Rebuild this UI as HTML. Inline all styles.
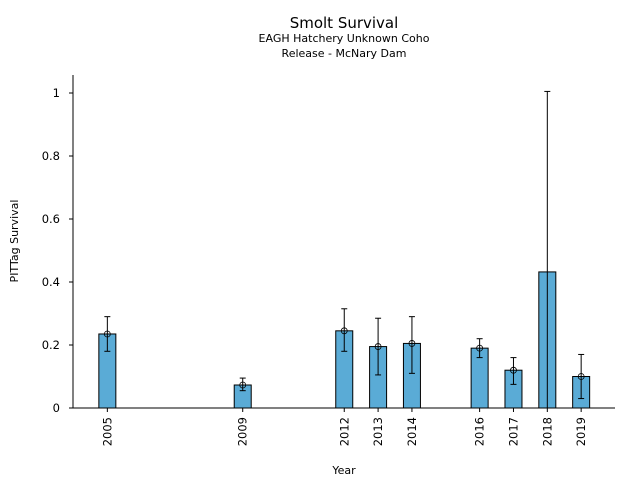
<!DOCTYPE html>
<html><head><meta charset="utf-8"><style>
body{margin:0;background:#fff;font-family:"DejaVu Sans","Liberation Sans",sans-serif}
svg text{font-family:"DejaVu Sans","Liberation Sans",sans-serif}
</style></head><body>
<svg id="chart" width="640" height="480">
<text x="344" y="28" font-size="15" text-anchor="middle">Smolt Survival</text>
<text x="344" y="42" font-size="11" text-anchor="middle">EAGH Hatchery Unknown Coho</text>
<text x="344" y="57" font-size="11" text-anchor="middle">Release - McNary Dam</text>
<text x="344" y="474" font-size="11" text-anchor="middle">Year</text>
<text transform="translate(18,241) rotate(-90)" font-size="11" text-anchor="middle">PITTag Survival</text>
<g id="marks"></g>
</svg>
<script>
const years=[2005,2009,2012,2013,2014,2016,2017,2018,2019];
const survival=[0.235,0.073,0.245,0.195,0.205,0.19,0.12,0.432,0.10];
const errLow=[0.18,0.055,0.18,0.105,0.11,0.16,0.075,0,0.03];
const errHigh=[0.29,0.095,0.315,0.285,0.29,0.22,0.16,1.005,0.17];
const showMarker=[true,true,true,true,true,true,true,false,true];
const yTicks=[0,0.2,0.4,0.6,0.8,1];
const yTickLabels=["0","0.2","0.4","0.6","0.8","1"];
const L=73,R=615,T=75,B=408;
const xs=v=>73.5+(v-2004)*(R-73.5)/16;
const ys=v=>B-v*315;
const g=document.getElementById('marks');
const NS='http://www.w3.org/2000/svg';
function mk(t,a){const e=document.createElementNS(NS,t);for(const k in a)e.setAttribute(k,a[k]);g.appendChild(e);return e;}
years.forEach((yr,i)=>{
 const cx=xs(yr);
 const bar=mk('rect',{x:cx-8.5,y:ys(survival[i]),width:17,height:B-ys(survival[i]),fill:'#5aabd6',stroke:'#000','stroke-width':1});
 
 
 const el=mk('line',{x1:cx,x2:cx,y1:ys(errLow[i]),y2:ys(errHigh[i]),stroke:'#000','stroke-width':1});
 
 
 mk('line',{x1:cx-3,x2:cx+3,y1:ys(errHigh[i]),y2:ys(errHigh[i]),stroke:'#000'});
 if(errLow[i]>0)mk('line',{x1:cx-3,x2:cx+3,y1:ys(errLow[i]),y2:ys(errLow[i]),stroke:'#000'});
 if(showMarker[i]){const c=mk('circle',{cx:cx,cy:ys(survival[i]),r:3,fill:'none',stroke:'#000','stroke-width':0.8});
 
 }
 mk('line',{x1:cx,x2:cx,y1:B,y2:B+4,stroke:'#000'});
 const t=mk('text',{transform:`translate(${cx+4},${B+9}) rotate(-90)`,'font-size':11.5,'text-anchor':'end'});
 t.textContent=yr;
 
 
});
yTicks.forEach((v,i)=>{
 mk('line',{x1:L-4,x2:L,y1:ys(v),y2:ys(v),stroke:'#000'});
 const t=mk('text',{x:L-13,y:ys(v)+4,'font-size':11.5,'text-anchor':'end'});
 t.textContent=yTickLabels[i];
 
 
});
const ax=mk('line',{x1:L,x2:L,y1:T,y2:B,stroke:'#000'});


const bx=mk('line',{x1:L,x2:R,y1:B,y2:B,stroke:'#000'});


</script>
</body></html>
